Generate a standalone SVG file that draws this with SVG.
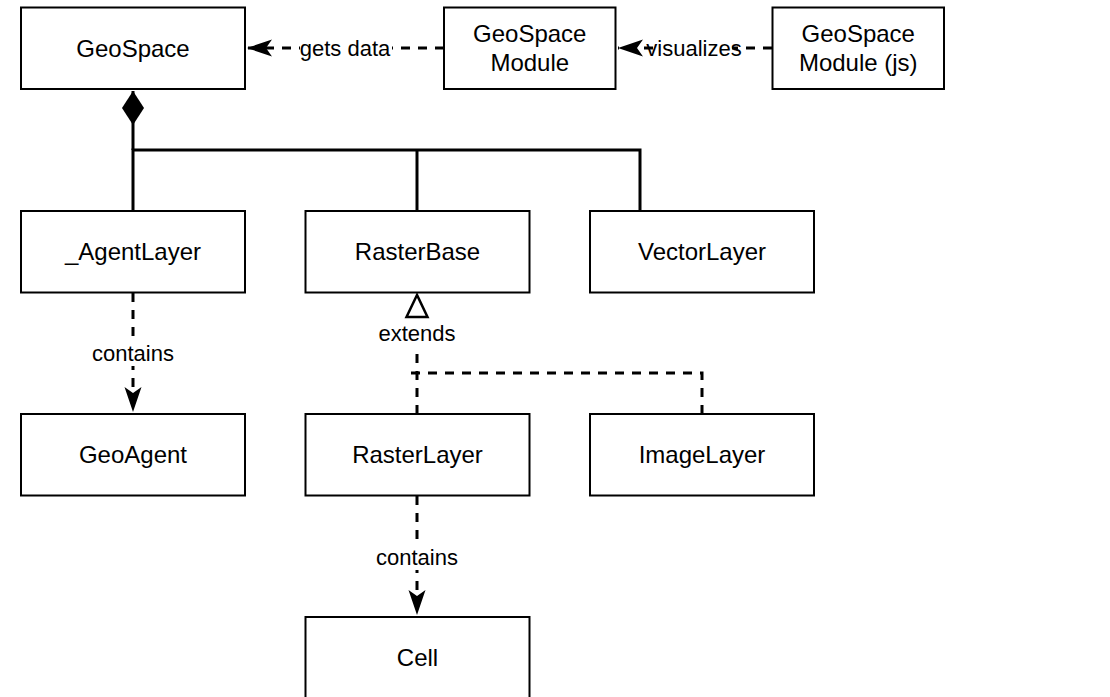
<svg xmlns="http://www.w3.org/2000/svg" width="1110" height="697" viewBox="0 0 1110 697">
<defs>
<style>
.box{fill:#fff;stroke:#000;stroke-width:2}
.t{font-family:"Liberation Sans",Arial,sans-serif;font-size:24px;fill:#000;text-anchor:middle}
.lbl{font-family:"Liberation Sans",Arial,sans-serif;font-size:22px;fill:#000;text-anchor:middle}
.solid{fill:none;stroke:#000;stroke-width:3}
.dash{fill:none;stroke:#000;stroke-width:3;stroke-dasharray:9 8}
</style>
<marker id="arr" markerUnits="userSpaceOnUse" viewBox="-26 -10 28 20" refX="0" refY="0" markerWidth="28" markerHeight="20" orient="auto">
<path d="M0,0 L-25,-8.5 L-19,0 L-25,8.5 Z" fill="#000"/>
</marker>
<marker id="tri" markerUnits="userSpaceOnUse" viewBox="-25 -13 28 26" refX="0" refY="0" markerWidth="28" markerHeight="26" orient="auto">
<path d="M0,0 L-22,-10.5 L-22,10.5 Z" fill="#fff" stroke="#000" stroke-width="2.5"/>
</marker>
<marker id="dia" markerUnits="userSpaceOnUse" viewBox="-36 -13 38 26" refX="0" refY="0" markerWidth="38" markerHeight="26" orient="auto">
<path d="M0,0 L-17,-11 L-34,0 L-17,11 Z" fill="#000"/>
</marker>
</defs>
<rect width="1110" height="697" fill="#fff"/>
<g id="connectors">
<path class="dash" d="M444,48 L247,48" marker-end="url(#arr)"/>
<path class="dash" d="M772,48 L618,48" marker-end="url(#arr)"/>
<path class="solid" d="M133,211 L133,150 L640,150 L640,211"/>
<path class="solid" d="M417,211 L417,150"/>
<path class="solid" d="M133,150 L133,91" marker-end="url(#dia)"/>
<path class="dash" d="M133,293 L133,412" marker-end="url(#arr)"/>
<path class="dash" d="M417,414 L417,295" marker-end="url(#tri)"/>
<path class="dash" d="M702,414 L702,373 L407,373"/>
<path class="dash" d="M417,496 L417,615" marker-end="url(#arr)"/>
<rect x="300" y="34" width="92" height="28" fill="#fff"/>
<text class="lbl" x="345" y="56">gets data</text>
<rect x="656" y="34" width="76" height="28" fill="#fff"/>
<text class="lbl" x="694" y="56">visualizes</text>
<rect x="91" y="340" width="84" height="26" fill="#fff"/>
<text class="lbl" x="133" y="361">contains</text>
<rect x="378" y="319" width="78" height="27" fill="#fff"/>
<text class="lbl" x="417" y="341">extends</text>
<rect x="375" y="544" width="84" height="26" fill="#fff"/>
<text class="lbl" x="417" y="565">contains</text>
</g>
<g id="geospace"><rect class="box" x="21" y="7.5" width="224" height="81.5"/><text class="t" x="133" y="56.5">GeoSpace</text></g>
<g id="geospace-module"><rect class="box" x="444" y="7.5" width="171.5" height="81.5"/><text class="t" x="529.75" y="42">GeoSpace</text><text class="t" x="529.75" y="71">Module</text></g>
<g id="geospace-module-js"><rect class="box" x="772.5" y="7.5" width="171.5" height="81.5"/><text class="t" x="858.25" y="42">GeoSpace</text><text class="t" x="858.25" y="71">Module (js)</text></g>
<g id="agentlayer"><rect class="box" x="21" y="211" width="224" height="81.5"/><text class="t" x="133" y="260">_AgentLayer</text></g>
<g id="rasterbase"><rect class="box" x="305.5" y="211" width="224" height="81.5"/><text class="t" x="417.5" y="260">RasterBase</text></g>
<g id="vectorlayer"><rect class="box" x="590" y="211" width="224" height="81.5"/><text class="t" x="702" y="260">VectorLayer</text></g>
<g id="geoagent"><rect class="box" x="21" y="414" width="224" height="81.5"/><text class="t" x="133" y="463">GeoAgent</text></g>
<g id="rasterlayer"><rect class="box" x="305.5" y="414" width="224" height="81.5"/><text class="t" x="417.5" y="463">RasterLayer</text></g>
<g id="imagelayer"><rect class="box" x="590" y="414" width="224" height="81.5"/><text class="t" x="702" y="463">ImageLayer</text></g>
<g id="cell"><rect class="box" x="305.5" y="617" width="224" height="81.5"/><text class="t" x="417.5" y="666">Cell</text></g>
</svg>
